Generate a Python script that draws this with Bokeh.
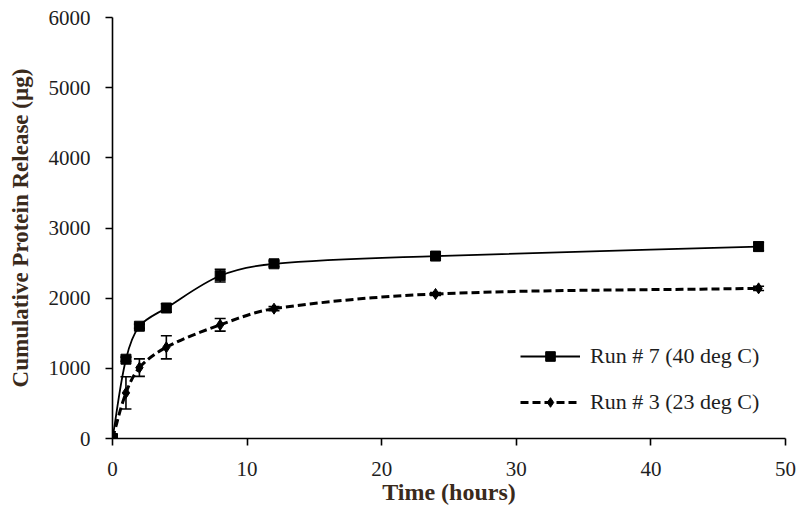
import math
from bokeh.plotting import figure
from bokeh.models import (ColumnDataSource, Whisker, TeeHead, Legend, LegendItem,
                          FixedTicker, Range1d)
from bokeh.embed import file_html
from bokeh.resources import INLINE

# ---- data ----
time_h = [0, 1, 2, 4, 8, 12, 24, 48]
run7 = [0, 1130, 1600, 1860, 2320, 2490, 2600, 2735]
run7_err = [0, 30, 30, 60, 90, 40, 30, 60]
run3 = [0, 650, 1010, 1300, 1620, 1850, 2060, 2140]
run3_err = [0, 230, 125, 165, 90, 30, 20, 30]
x_ticks = [0, 10, 20, 30, 40, 50]
y_ticks = [0, 1000, 2000, 3000, 4000, 5000, 6000]
label7 = "Run # 7 (40 deg C)"
label3 = "Run # 3 (23 deg C)"

FONT = "Liberation Serif"
LABEL_COLOR = "#3a2a1c"
TICK_COLOR = "#1e1e1e"

FRAME_W, FRAME_H = 673, 421
X_MAX, Y_MAX = 50, 6000


def smooth_segments(xs, ys):
    """Bezier control points for a smoothed line (tangent handles scaled by
    neighbouring segment lengths measured in screen pixels)."""
    sx, sy = FRAME_W / X_MAX, FRAME_H / Y_MAX
    n = len(xs)

    def dist(i, j):
        return math.hypot((xs[j] - xs[i]) * sx, (ys[j] - ys[i]) * sy)

    def handle(i, seg_end):
        ip = max(i - 1, 0)
        inx = min(i + 1, n - 1)
        d_prev = dist(ip, i)
        d_next = dist(i, inx)
        tot = d_prev + d_next
        seg = d_next if seg_end == "out" else d_prev
        f = (seg / tot) / 1.5 if tot > 0 else 0
        return (xs[inx] - xs[ip]) * f * 0.5, (ys[inx] - ys[ip]) * f * 0.5

    d = dict(x0=[], y0=[], x1=[], y1=[], cx0=[], cy0=[], cx1=[], cy1=[])
    for i in range(n - 1):
        hx0, hy0 = handle(i, "out")
        hx1, hy1 = handle(i + 1, "in")
        d["x0"].append(xs[i]); d["y0"].append(ys[i])
        d["x1"].append(xs[i + 1]); d["y1"].append(ys[i + 1])
        d["cx0"].append(xs[i] + hx0); d["cy0"].append(ys[i] + hy0)
        d["cx1"].append(xs[i + 1] - hx1); d["cy1"].append(ys[i + 1] - hy1)
    return ColumnDataSource(d)


p = figure(frame_width=FRAME_W, frame_height=FRAME_H, output_backend="svg",
           toolbar_location=None, x_range=Range1d(0, X_MAX), y_range=Range1d(0, Y_MAX),
           min_border_left=112, min_border_top=17, min_border_right=13,
           min_border_bottom=66)
p.outline_line_color = None
p.xgrid.visible = False
p.ygrid.visible = False
p.background_fill_color = "white"

for ax in (p.xaxis[0], p.yaxis[0]):
    ax.axis_line_color = "black"
    ax.axis_line_width = 1.6
    ax.major_tick_line_color = "black"
    ax.major_tick_line_width = 1.6
    ax.major_tick_in = 0
    ax.major_tick_out = 7
    ax.minor_tick_line_color = None
    ax.major_label_text_font = FONT
    ax.major_label_text_font_size = "21px"
    ax.major_label_text_color = TICK_COLOR
    ax.axis_label_text_font = FONT
    ax.axis_label_text_font_style = "bold"
    ax.axis_label_text_color = LABEL_COLOR

p.xaxis.ticker = FixedTicker(ticks=x_ticks)
p.yaxis.ticker = FixedTicker(ticks=y_ticks)
p.xaxis.axis_label = "Time (hours)"
p.yaxis.axis_label = "Cumulative Protein Release (µg)"
p.xaxis.axis_label_text_font_size = "24px"
p.yaxis.axis_label_text_font_size = "23px"
p.xaxis.major_label_standoff = 16
p.xaxis.axis_label_standoff = 0
p.yaxis.major_label_standoff = 15
p.yaxis.axis_label_standoff = 13

# smoothed curves
p.bezier(x0="x0", y0="y0", x1="x1", y1="y1", cx0="cx0", cy0="cy0", cx1="cx1", cy1="cy1",
         source=smooth_segments(time_h, run7), line_color="black", line_width=1.8)
p.bezier(x0="x0", y0="y0", x1="x1", y1="y1", cx0="cx0", cy0="cy0", cx1="cx1", cy1="cy1",
         source=smooth_segments(time_h, run3), line_color="black", line_width=3,
         line_dash="8 4")

# error bars
src7 = ColumnDataSource(dict(x=time_h, y=run7,
                             lo=[v - e for v, e in zip(run7, run7_err)],
                             hi=[v + e for v, e in zip(run7, run7_err)]))
src3 = ColumnDataSource(dict(x=time_h, y=run3,
                             lo=[v - e for v, e in zip(run3, run3_err)],
                             hi=[v + e for v, e in zip(run3, run3_err)]))
for src in (src7, src3):
    w = Whisker(base="x", lower="lo", upper="hi", source=src, line_color="black",
                line_width=1.6,
                upper_head=TeeHead(size=11, line_color="black", line_width=1.6),
                lower_head=TeeHead(size=11, line_color="black", line_width=1.6))
    p.add_layout(w)

# markers
m7 = p.scatter("x", "y", source=src7, marker="square", size=10,
               fill_color="black", line_color="black")
m3 = p.scatter("x", "y", source=src3, marker="diamond", size=11,
               fill_color="black", line_color="black")

# legend line proxies (hidden, used only for legend glyphs)
l7 = p.line("x", "y", source=src7, line_color="black", line_width=1.8, visible=False)
l3 = p.line("x", "y", source=src3, line_color="black", line_width=3, line_dash="8 4",
            visible=False)

legend = Legend(items=[LegendItem(label=label7, renderers=[l7, m7]),
                       LegendItem(label=label3, renderers=[l3, m3])],
                location=(408, 23))
legend.border_line_color = None
legend.background_fill_alpha = 0
legend.glyph_width = 60
legend.glyph_height = 24
legend.label_height = 24
legend.spacing = 20
legend.padding = 5
legend.margin = 0
legend.label_standoff = 10
legend.label_text_font = FONT
legend.label_text_font_size = "22px"
legend.label_text_color = TICK_COLOR
p.add_layout(legend)

open("out.html", "w").write(file_html(p, INLINE))
